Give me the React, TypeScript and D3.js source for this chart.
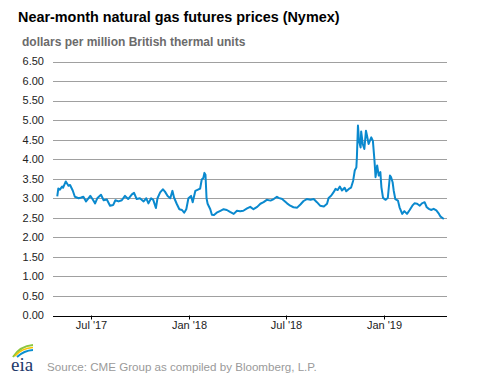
import React from "react";
import * as d3 from "d3";

const dates: string[] = [
  "2017-04-28","2017-04-30","2017-05-03","2017-05-07","2017-05-09","2017-05-14","2017-05-19","2017-05-22","2017-05-27","2017-05-31",
  "2017-06-07","2017-06-12","2017-06-16","2017-06-21","2017-06-29","2017-07-03","2017-07-08","2017-07-12","2017-07-19","2017-07-24",
  "2017-07-30","2017-08-05","2017-08-11","2017-08-15","2017-08-21","2017-08-27","2017-09-02","2017-09-08","2017-09-15","2017-09-19",
  "2017-09-24","2017-09-30","2017-10-07","2017-10-12","2017-10-16","2017-10-21","2017-10-25","2017-10-30","2017-11-02","2017-11-07",
  "2017-11-12","2017-11-16","2017-11-21","2017-11-26","2017-11-30","2017-12-03","2017-12-08","2017-12-13","2017-12-18","2017-12-22",
  "2017-12-26","2017-12-30","2018-01-04","2018-01-07","2018-01-12","2018-01-18","2018-01-21","2018-01-24","2018-01-27","2018-01-29",
  "2018-01-31","2018-02-02","2018-02-04","2018-02-09","2018-02-12","2018-02-16","2018-02-21","2018-02-28","2018-03-06","2018-03-12",
  "2018-03-18","2018-03-25","2018-03-31","2018-04-06","2018-04-12","2018-04-19","2018-04-25","2018-05-01","2018-05-08","2018-05-14",
  "2018-05-20","2018-05-26","2018-06-02","2018-06-08","2018-06-14","2018-06-17","2018-06-24","2018-06-27","2018-07-03","2018-07-09",
  "2018-07-15","2018-07-22","2018-07-28","2018-08-03","2018-08-09","2018-08-16","2018-08-22","2018-08-28","2018-09-03","2018-09-10",
  "2018-09-16","2018-09-19","2018-09-24","2018-09-28","2018-10-02","2018-10-06","2018-10-10","2018-10-14","2018-10-19","2018-10-22",
  "2018-10-27","2018-10-31","2018-11-04","2018-11-07","2018-11-10","2018-11-11","2018-11-13","2018-11-15","2018-11-18","2018-11-19",
  "2018-11-22","2018-11-25","2018-11-28","2018-11-30","2018-12-03","2018-12-08","2018-12-11","2018-12-14","2018-12-16","2018-12-19",
  "2018-12-22","2018-12-25","2018-12-27","2018-12-30","2019-01-04","2019-01-08","2019-01-12","2019-01-14","2019-01-17","2019-01-19",
  "2019-01-22","2019-01-27","2019-01-30","2019-02-04","2019-02-08","2019-02-13","2019-02-18","2019-02-23","2019-02-27","2019-03-04",
  "2019-03-09","2019-03-13","2019-03-18","2019-03-22","2019-03-26","2019-03-30","2019-04-04","2019-04-09","2019-04-14","2019-04-17",
  "2019-04-20","2019-04-23"
];

const prices: number[] = [
  3.05,3.25,3.22,3.30,3.27,3.43,3.32,3.34,3.20,3.04,
  3.00,3.02,3.04,2.92,3.06,2.98,2.87,3.00,3.09,2.95,
  2.97,2.81,2.83,2.95,2.92,2.95,3.06,2.98,3.10,3.14,
  2.98,3.00,2.92,3.00,2.87,3.00,2.96,2.75,3.00,3.15,
  3.23,3.17,3.06,3.00,3.19,3.02,2.86,2.72,2.70,2.63,
  2.72,3.00,3.06,2.90,3.19,3.23,3.25,3.48,3.52,3.65,
  3.60,3.00,2.86,2.72,2.58,2.57,2.63,2.68,2.72,2.70,
  2.65,2.60,2.68,2.67,2.68,2.74,2.78,2.72,2.78,2.86,
  2.90,2.96,2.94,2.98,3.04,3.01,2.98,2.94,2.87,2.81,
  2.77,2.76,2.84,2.93,2.98,2.96,2.98,2.90,2.81,2.79,
  2.86,3.01,3.07,3.15,3.24,3.21,3.30,3.20,3.27,3.18,
  3.24,3.27,3.45,3.71,3.79,4.05,4.86,4.47,4.30,4.71,
  4.39,4.26,4.73,4.60,4.39,4.56,4.47,3.96,3.54,3.84,
  3.58,3.67,3.28,3.01,2.96,3.01,3.58,3.54,3.41,3.20,
  2.98,2.94,2.77,2.60,2.67,2.60,2.70,2.81,2.87,2.86,
  2.81,2.87,2.90,2.77,2.73,2.70,2.73,2.69,2.60,2.53,
  2.50,2.47
];

const yTicks: number[] = [0, 0.5, 1, 1.5, 2, 2.5, 3, 3.5, 4, 4.5, 5, 5.5, 6, 6.5];
const xTickDates: string[] = ["2017-07-01", "2018-01-01", "2018-07-01", "2019-01-01"];
const xTickLabels: string[] = ["Jul '17", "Jan '18", "Jul '18", "Jan '19"];
const domainStart = "2017-04-20";
const domainEnd = "2019-04-29";

const title = "Near-month natural gas futures prices (Nymex)";
const subtitle = "dollars per million British thermal units";
const source = "Source: CME Group as compiled by Bloomberg, L.P.";

export default function App() {
  const W = 477, H = 379;
  const left = 53, right = 447, top = 61.5, bottom = 315.5;
  const parse = d3.utcParse("%Y-%m-%d");
  const x = d3.scaleUtc().domain([parse(domainStart)!, parse(domainEnd)!]).range([left, right]);
  const y = d3.scaleLinear().domain([0, 6.5]).range([bottom, top]);
  const data = dates.map((d, i) => ({ date: parse(d)!, v: prices[i] }));
  const line = d3.line<{ date: Date; v: number }>().x(d => x(d.date)).y(d => y(d.v));
  const font = "Arial, 'Liberation Sans', sans-serif";

  return (
    <div style={{ position: "absolute", left: 0, top: 0 }}>
      <style>{`body{margin:0}`}</style>
      <svg width={W} height={H} style={{ display: "block", background: "#fff" }} fontFamily={font}>
        <text x={18} y={22} fontSize={14.4} fontWeight="bold" fill="#000">{title}</text>
        <text x={22} y={46} fontSize={12} fontWeight="bold" fill="#6b6b6b">{subtitle}</text>
        {yTicks.map(t => (
          <g key={t}>
            {t > 0 && (
              <line x1={left} x2={right} y1={Math.round(y(t)) + 0.5} y2={Math.round(y(t)) + 0.5} stroke="#a0a0a0" strokeWidth={1} />
            )}
            <text x={44} y={y(t)} dy="0.35em" textAnchor="end" fontSize={11} fill="#222">{t.toFixed(2)}</text>
          </g>
        ))}
        <path d={line(data) || ""} fill="none" stroke="#0a89ce" strokeWidth={2} strokeLinejoin="round" />
        <line x1={left} x2={right} y1={Math.round(bottom) + 0.5} y2={Math.round(bottom) + 0.5} stroke="#000" strokeWidth={1} />
        {xTickDates.map((d, i) => {
          const xx = Math.round(x(parse(d)!)) + 0.5;
          return (
            <g key={d}>
              <line x1={xx} x2={xx} y1={bottom} y2={bottom + 4} stroke="#000" strokeWidth={1} />
              <text x={xx} y={329} textAnchor="middle" fontSize={11} fill="#222">{xTickLabels[i]}</text>
            </g>
          );
        })}
        <g>
          <path d="M13,357 Q20,346 33,345" fill="none" stroke="#8cc63f" strokeWidth={2} />
          <path d="M15,356 Q22,348 33,347.5" fill="none" stroke="#f7c600" strokeWidth={1.5} />
          <path d="M17,357 Q24,350.5 33,350" fill="none" stroke="#0a8fd0" strokeWidth={2} />
          <text x={11} y={371} fontSize={19} fontFamily="'Liberation Serif', 'DejaVu Serif', serif" fill="#1d3a6b">eia</text>
        </g>
        <text x={47} y={371} fontSize={11.6} fill="#9a9a9a">{source}</text>
      </svg>
    </div>
  );
}
